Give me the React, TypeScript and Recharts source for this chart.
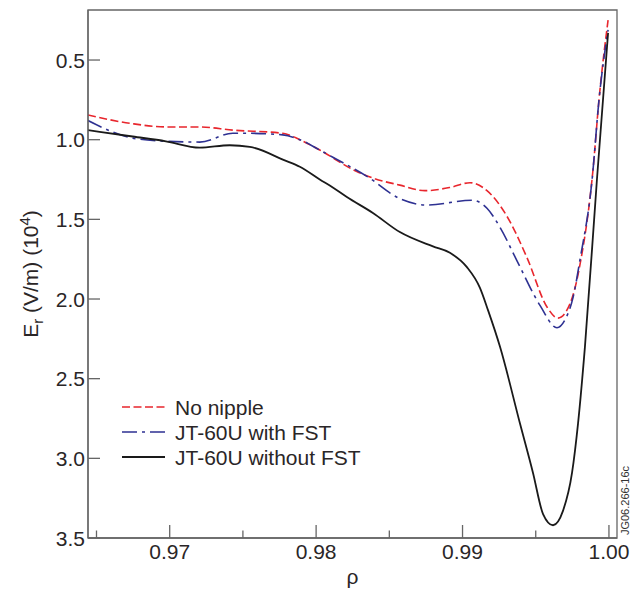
import React from "react";
import { LineChart, Line, XAxis, YAxis, Legend, ReferenceArea, Label, Customized } from "recharts";

const FONT = '"Liberation Sans", Arial, Helvetica, sans-serif';
const INK = "#2a2627";
const AXIS = "#666";

// Er (in 10^4 V/m, plotted downward) against rho
const rhoNoRipple = [0.96442, 0.96747, 0.9698, 0.97205, 0.97431, 0.97772, 0.97889, 0.98025, 0.98278, 0.98401, 0.98572, 0.98743, 0.98914, 0.99051, 0.99167, 0.99303, 0.9944, 0.99577, 0.99652, 0.99734, 0.99803, 0.99891, 0.99932, 0.99994];
const erNoRipple = [0.845, 0.9, 0.92, 0.92, 0.94, 0.96, 1.0, 1.065, 1.2, 1.245, 1.285, 1.32, 1.3, 1.27, 1.32, 1.48, 1.74, 2.05, 2.12, 2.03, 1.78, 1.19, 0.75, 0.25];

const rhoWithFst = [0.96442, 0.96747, 0.9698, 0.97205, 0.97431, 0.97547, 0.97772, 0.97889, 0.98025, 0.98114, 0.98347, 0.98572, 0.98757, 0.99064, 0.99167, 0.99256, 0.99372, 0.99529, 0.99645, 0.997, 0.99755, 0.99803, 0.99885, 0.99932, 0.99994];
const erWithFst = [0.88, 0.99, 1.01, 1.015, 0.96, 0.96, 0.97, 1.0, 1.065, 1.11, 1.23, 1.37, 1.41, 1.38, 1.43, 1.55, 1.76, 2.04, 2.18, 2.13, 1.99, 1.75, 1.25, 0.75, 0.31];

const rhoWithoutFst = [0.96442, 0.96747, 0.96974, 0.97205, 0.9741, 0.97547, 0.97786, 0.97889, 0.98025, 0.98114, 0.9821, 0.98388, 0.98572, 0.98798, 0.98914, 0.9903, 0.99119, 0.99174, 0.99256, 0.99392, 0.99481, 0.9955, 0.99618, 0.99686, 0.99748, 0.99789, 0.99836, 0.99918, 0.99994];
const erWithoutFst = [0.94, 0.98, 1.01, 1.05, 1.035, 1.045, 1.13, 1.17, 1.25, 1.3, 1.36, 1.46, 1.58, 1.67, 1.71, 1.8, 1.93, 2.07, 2.3, 2.78, 3.09, 3.35, 3.42, 3.33, 3.09, 2.78, 2.3, 1.25, 0.33];

const xTicks = [0.965, 0.97, 0.975, 0.98, 0.985, 0.99, 0.995, 1.0];
const yTicks = [0.5, 1.0, 1.5, 2.0, 2.5, 3.0, 3.5];
const xDomain = [0.96442, 1.00055];
const yDomain = [0.186, 3.5];

const legendLabels = ["No nipple", "JT-60U with FST", "JT-60U without FST"];

const toPoints = (rho: number[], er: number[]) => rho.map((r, i) => ({ rho: r, er: er[i] }));

const series = [
  { name: legendLabels[0], data: toPoints(rhoNoRipple, erNoRipple), color: "#e8262d", dash: "8 3.5", width: 1.6 },
  { name: legendLabels[1], data: toPoints(rhoWithFst, erWithFst), color: "#2e3192", dash: "15 5 3 5", width: 1.6 },
  { name: legendLabels[2], data: toPoints(rhoWithoutFst, erWithoutFst), color: "#1a1a1a", dash: undefined, width: 1.8 },
];

const XTick = (props: any) => {
  const { x, y, payload } = props;
  const v = payload.value;
  const major = Math.abs(v * 100 - Math.round(v * 100)) < 1e-6;
  return (
    <g>
      <line x1={x} x2={x} y1={y} y2={y - (major ? 13 : 7.5)} stroke={AXIS} strokeWidth={1.3} />
      {major && (
        <text x={x} y={y + 20.5} textAnchor="middle" fontSize={21} fill={INK} fontFamily={FONT}>
          {v.toFixed(2)}
        </text>
      )}
    </g>
  );
};

const YTick = (props: any) => {
  const { x, y, payload } = props;
  return (
    <g>
      <line x1={x} x2={x + 12} y1={y} y2={y} stroke={AXIS} strokeWidth={1.3} />
      <text x={x - 3} y={y + 7.5} textAnchor="end" fontSize={21} fill={INK} fontFamily={FONT}>
        {payload.value.toFixed(1)}
      </text>
    </g>
  );
};

const YLabel = (props: any) => {
  const vb = props.viewBox || { y: 2, height: 528 };
  const cx = 22.5;
  const cy = vb.y + vb.height / 2;
  return (
    <text transform={`rotate(-90, ${cx}, ${cy})`} x={cx} y={cy} dy="0.36em" textAnchor="middle" fontSize={21} fill={INK} fontFamily={FONT}>
      E
      <tspan dy={5} fontSize={15}>r</tspan>
      <tspan dy={-5}> (V/m) (10</tspan>
      <tspan dy={-8} fontSize={15}>4</tspan>
      <tspan dy={8}>)</tspan>
    </text>
  );
};

const XLabel = (props: any) => {
  const vb = props.viewBox || { x: 80, y: 530, width: 529 };
  return (
    <text x={vb.x + vb.width / 2} y={vb.y + 46} textAnchor="middle" fontSize={21} fill={INK} fontFamily={FONT}>
      ρ
    </text>
  );
};

const LegendBox = () => (
  <svg width={260} height={80} style={{ display: "block", overflow: "visible" }}>
    {series.map((s, i) => (
      <g key={s.name}>
        <line x1={0} x2={43} y1={12 + i * 25} y2={12 + i * 25} stroke={s.color} strokeWidth={s.width} strokeDasharray={s.dash} />
        <text x={53} y={12 + i * 25 + 7.5} fontSize={21} fill={INK} fontFamily={FONT}>
          {s.name}
        </text>
      </g>
    ))}
  </svg>
);

const Stamp = () => (
  <text transform="rotate(-90, 617, 492.5)" x={617} y={492.5} dy="0.35em" textAnchor="middle" fontSize={11} fill="#333" fontFamily={FONT}>
    JG06.266-16c
  </text>
);

export default function App() {
  return (
    <div style={{ width: 636, height: 581, position: "relative" }}>
      <LineChart width={636} height={581} margin={{ top: 2, right: 27, bottom: 0, left: 0 }}>
        <ReferenceArea x1={xDomain[0]} x2={xDomain[1]} y1={yDomain[0]} y2={yDomain[1]} fill="none" stroke={AXIS} strokeWidth={1.3} ifOverflow="visible" />
        <XAxis
          dataKey="rho"
          type="number"
          domain={xDomain}
          ticks={xTicks}
          interval={0}
          allowDataOverflow
          height={51}
          tickSize={0}
          tickMargin={0}
          tickLine={false}
          axisLine={{ stroke: AXIS, strokeWidth: 1.3 }}
          tick={<XTick />}
        >
          <Label content={<XLabel />} />
        </XAxis>
        <YAxis
          type="number"
          reversed
          domain={yDomain}
          ticks={yTicks}
          interval={0}
          allowDataOverflow
          width={80}
          tickSize={0}
          tickMargin={0}
          tickLine={false}
          axisLine={{ stroke: AXIS, strokeWidth: 1.3 }}
          tick={<YTick />}
        >
          <Label content={<YLabel />} />
        </YAxis>
        {series.map((s) => (
          <Line
            key={s.name}
            name={s.name}
            data={s.data}
            dataKey="er"
            type="monotone"
            stroke={s.color}
            strokeWidth={s.width}
            strokeDasharray={s.dash}
            dot={false}
            activeDot={false}
            isAnimationActive={false}
          />
        ))}
        <Legend
          layout="horizontal"
          align="center"
          verticalAlign="middle"
          content={<LegendBox />}
          wrapperStyle={{ left: 113.7, top: 386.7, width: 260, height: 80 }}
        />
        <Customized component={<Stamp />} />
      </LineChart>
    </div>
  );
}
